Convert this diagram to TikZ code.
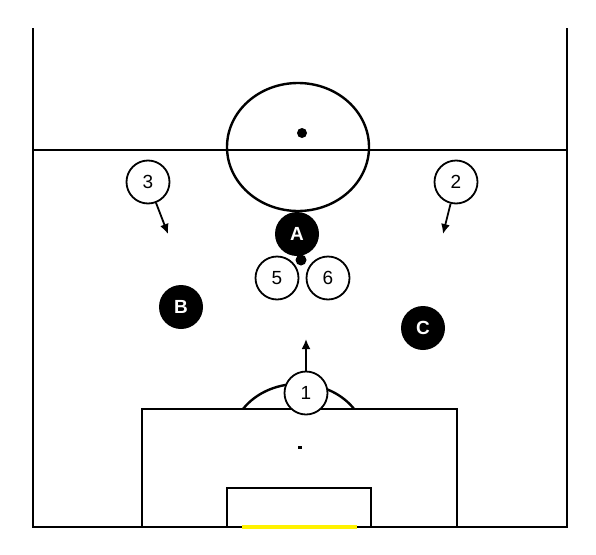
\documentclass[tikz,border=0pt]{standalone}
\usepackage{fontspec}
\setmainfont{Liberation Sans}
\usetikzlibrary{arrows.meta}
\tikzset{
  line/.style={line width=2.4pt, black},
  mate/.style={circle, draw=black, line width=1.8pt, fill=white, minimum size=43pt, inner sep=0pt, font=\fontsize{19}{19}\selectfont},
  foe/.style={circle, fill=black, minimum size=44pt, inner sep=0pt, text=white, font=\fontsize{19}{19}\selectfont\bfseries},
  move/.style={line width=1.8pt, -{Latex[length=10pt,width=9pt]}},
}
\begin{document}
\begin{tikzpicture}[x=1pt,y=-1pt]
\useasboundingbox[fill=white] (0,0) rectangle (596,554);
% pitch lines
\draw[line] (33,28) -- (33,527) -- (567,527) -- (567,28);
\draw[line] (33,150) -- (567,150);
\draw[line] (298,147) ellipse [x radius=71, y radius=64];
\fill (302,133) circle (5);
% penalty box
\draw[line] (142,527) -- (142,409) -- (457,409) -- (457,527);
\draw[line] (227,527) -- (227,488) -- (371,488) -- (371,527);
\draw[line] (243,409) arc[start angle=214, end angle=326, x radius=67, y radius=57];
\fill (298,445.5) rectangle (302,448.5);
\draw[yellow, line width=4pt] (242,527) -- (357,527);
% players
\node[foe] (A) at (297,234) {A};
\node[foe] (B) at (181,307) {B};
\node[foe] (C) at (423,328) {C};
\fill (301,260) circle (5.5);
\node[mate] (p5) at (277,278) {5};
\node[mate] (p6) at (328,278) {6};
\node[mate] (p3) at (148,182) {3};
\node[mate] (p2) at (456,182) {2};
\node[mate] (p1) at (306,393) {1};
\coordinate (t3) at (168,234);
\coordinate (t2) at (443,234);
\coordinate (t1) at (306,339);
\draw[move] (p3) -- (t3);
\draw[move] (p2) -- (t2);
\draw[move] (p1) -- (t1);
\end{tikzpicture}
\end{document}
